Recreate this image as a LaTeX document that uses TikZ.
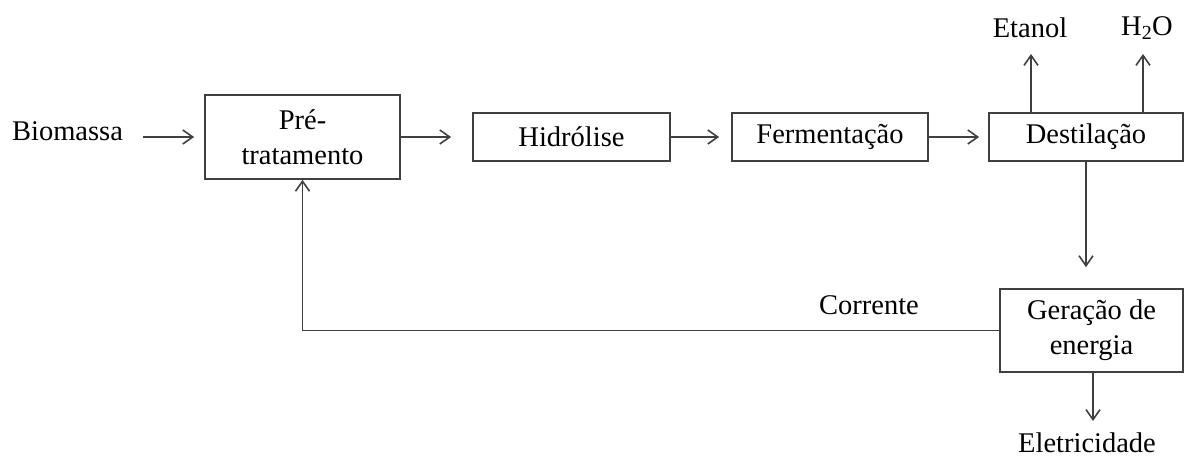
\documentclass[tikz,border=0pt]{standalone}
\usepackage{fontspec}
\setmainfont{Liberation Serif}
\usetikzlibrary{arrows.meta}
\definecolor{linecol}{RGB}{64,64,64}
\begin{document}
\begin{tikzpicture}[x=1pt,y=-1pt,
  every node/.style={font=\fontsize{28.5}{35}\selectfont, text=black},
  box/.style={draw=linecol, line width=1.7pt, inner sep=0pt, align=center},
  lbl/.style={inner sep=0pt},
  flow/.style={draw=linecol, line width=1.7pt,
    -{Straight Barb[length=10pt,width=14pt,line width=1.6pt]}}]
\useasboundingbox (0,0) rectangle (1184,458);

% process blocks
\node[box, minimum width=195pt, minimum height=84pt] (pre) at (302.5,137) {Pré-\\tratamento};
\node[box, minimum width=197pt, minimum height=48pt] (hid) at (571.5,137) {Hidrólise};
\node[box, minimum width=196pt, minimum height=48pt] (fer) at (830,137) {Fermentação};
\node[box, minimum width=194pt, minimum height=48pt] (des) at (1086,137) {Destilação};
\node[box, minimum width=183pt, minimum height=83pt, align=center] (ger) at (1091.5,330.5) {Geração de\\energia};

% stream labels
\node[lbl] (bio) at (67.5,131) {Biomassa};
\node[lbl] (eta) at (1030,28) {Etanol};
\node[lbl] (h2o) at (1147,28) {H\textsubscript{2}O};
\node[lbl] (ele) at (1087,443) {Eletricidade};
\node[lbl] (cor) at (869,305) {Corrente};

% arrow ends below the product labels
\coordinate (etaIn) at (1031,54);
\coordinate (h2oIn) at (1143,54);
\coordinate (eleIn) at (1093,421);

% main line
\draw[flow, shorten <=20pt, shorten >=10pt] (bio.east |- pre.west) -- (pre.west);
\draw[flow, shorten >=21pt] (pre.east) -- (hid.west);
\draw[flow, shorten >=12pt] (hid.east) -- (fer.west);
\draw[flow, shorten >=9pt] (fer.east) -- (des.west);

% products of distillation
\draw[flow] (des.north -| etaIn) -- (etaIn);
\draw[flow] (des.north -| h2oIn) -- (h2oIn);
\draw[flow, shorten >=21pt] (des.south) -- (des.south |- ger.north);

% power generation
\draw[flow] (ger.south -| eleIn) -- (eleIn);
\draw[flow] (ger.west) -| (pre.south);
\end{tikzpicture}
\end{document}
